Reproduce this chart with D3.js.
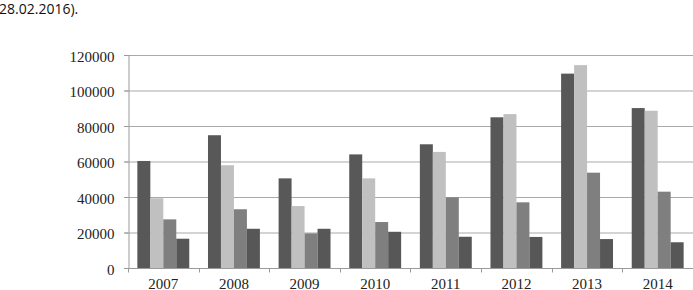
<!DOCTYPE html>
<html>
<head>
<meta charset="utf-8">
<script src="https://cdn.jsdelivr.net/npm/d3@7"></script>
<style>
  body { margin: 0; background: #fff; }
  svg { display: block; }
  .note { font-family: "Open Sans", sans-serif; font-size: 14px; fill: #111; }
  .tick text { font-family: "Liberation Serif", serif; font-size: 15px; fill: #222; }
</style>
</head>
<body>
<div id="chart"></div>
<script>
// Data
const years = ['2007', '2008', '2009', '2010', '2011', '2012', '2013', '2014'];
const series1 = [60300, 74800, 50500, 64000, 69700, 84900, 109500, 90100];
const series2 = [39300, 57900, 34900, 50500, 65400, 86700, 114300, 88600];
const series3 = [27400, 33100, 19500, 25900, 39800, 37000, 53700, 43000];
const series4 = [16500, 22100, 22100, 20400, 17600, 17500, 16300, 14500];
const yTicks = [0, 20000, 40000, 60000, 80000, 100000, 120000];

const seriesList = [series1, series2, series3, series4];
const colors = ['#585858', '#c0c0c0', '#7f7f7f', '#575757'];

const W = 693, H = 290;
const margin = {top: 55, right: 0, bottom: 22, left: 128};
const width = W - margin.left - margin.right,
      height = H - margin.top - margin.bottom;

const root = d3.select('#chart')
    .append('svg')
    .attr('width', W)
    .attr('height', H);

// cut-off text from the surrounding document
root.append('text')
    .attr('class', 'note')
    .attr('x', -1)
    .attr('y', 14)
    .style('font-weight', 500)
    .text('28.02.2016).');

const svg = root.append('g')
    .attr('transform', `translate(${margin.left},${margin.top})`);

const x = d3.scaleBand()
    .domain(years)
    .range([0, width])
    .paddingInner(0.265)
    .paddingOuter(0.1325);

const xSub = d3.scaleBand()
    .domain(d3.range(seriesList.length))
    .range([0, x.bandwidth()]);

const y = d3.scaleLinear()
    .domain([0, 120000])
    .range([height, 0]);

// Gridlines
svg.append('g')
    .selectAll('line')
    .data(yTicks.slice(1))
    .enter()
    .append('line')
    .attr('x1', -4)
    .attr('x2', width)
    .attr('y1', d => y(d) + 0.5)
    .attr('y2', d => y(d) + 0.5)
    .attr('stroke', '#a9a9a9')
    .attr('stroke-width', 1);

// Bars
years.forEach((yr, i) => {
    svg.append('g')
        .selectAll('rect')
        .data(seriesList.map(s => s[i]))
        .enter()
        .append('rect')
        .attr('x', (d, j) => x(yr) + xSub(j))
        .attr('y', d => y(d))
        .attr('width', xSub.bandwidth())
        .attr('height', d => height - y(d))
        .attr('fill', (d, j) => colors[j]);
});

// y-axis
const yAxis = svg.append('g')
    .attr('transform', 'translate(0.5,0)')
    .call(d3.axisLeft(y).tickValues(yTicks).tickFormat(d3.format('d')).tickSize(4).tickPadding(10));
yAxis.selectAll('line').attr('stroke', '#9a9a9a');
yAxis.select('.domain').attr('stroke', '#9a9a9a');
yAxis.selectAll('text').attr('dy', '0.4em');

// x-axis with ticks between categories
const xAxis = svg.append('g')
    .attr('transform', `translate(0,${height + 0.5})`);
xAxis.append('line')
    .attr('x1', -4)
    .attr('x2', width)
    .attr('stroke', '#9a9a9a');
const sepPos = years.map(d => x(d) - x.step() * x.paddingOuter()).concat([width - 0.5]);
xAxis.selectAll('.sep')
    .data(sepPos)
    .enter()
    .append('line')
    .attr('class', 'sep')
    .attr('x1', d => Math.round(d) + 0.5)
    .attr('x2', d => Math.round(d) + 0.5)
    .attr('y1', 0)
    .attr('y2', 4)
    .attr('stroke', '#9a9a9a');
xAxis.selectAll('.tick')
    .data(years)
    .enter()
    .append('g')
    .attr('class', 'tick')
    .append('text')
    .attr('x', d => x(d) + x.bandwidth() / 2)
    .attr('y', 20)
    .attr('text-anchor', 'middle')
    .text(d => d);
</script>
</body>
</html>
